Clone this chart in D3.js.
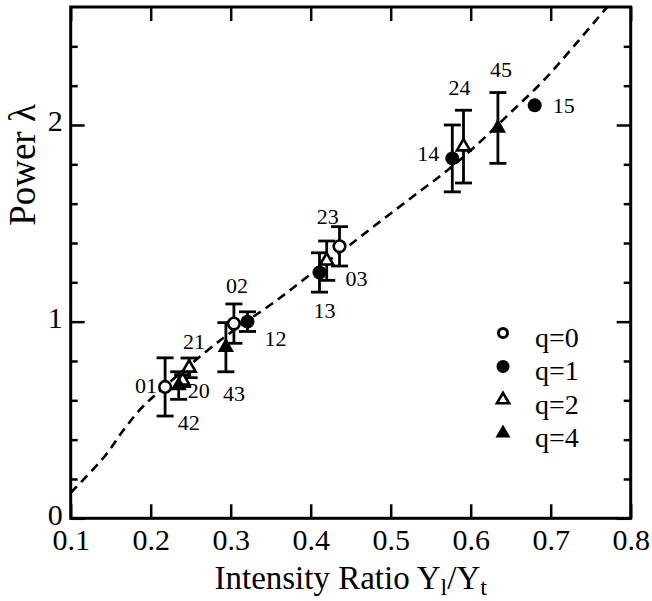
<!DOCTYPE html>
<html lang="en">
<head>
<meta charset="utf-8">
<title>Power vs intensity ratio</title>
<style>
body { margin: 0; background: #fff; }
svg { display: block; }
text { font-family: "Liberation Serif", "Times New Roman", serif; fill: #000; }
.axis text { font-size: 30px; font-family: "Liberation Serif", "Times New Roman", serif; }
.axis line { stroke: #000; stroke-width: 2.5; }
.axis path { display: none; }
.frame { fill: none; stroke: #000; stroke-width: 3; }
.fit { fill: none; stroke: #000; stroke-width: 2.6; stroke-dasharray: 9, 6; }
.err { stroke: #000; stroke-width: 2.8; }
.pt-label { font-size: 22px; }
.legend text { font-size: 28px; }
.title { font-size: 33px; }
</style>
</head>
<body>
<div id="chart"></div>
<script src="https://d3js.org/d3.v7.min.js"></script>
<script>
// points, named by their two digit label
var pointNames = ['01', '20', '42', '21', '43', '02', '12', '13', '23', '03', '14', '24', '45', '15'];
var pointQ     = [0, 2, 4, 2, 4, 0, 1, 1, 2, 0, 1, 2, 4, 1];
var pointX     = [0.218, 0.240, 0.235, 0.248, 0.294, 0.304, 0.321, 0.411, 0.420, 0.436, 0.577, 0.591, 0.634, 0.680];
var pointY     = [0.668, 0.700, 0.675, 0.765, 0.870, 0.990, 1.000, 1.250, 1.310, 1.383, 1.830, 1.890, 1.985, 2.100];
var pointErr   = [0.148, 0.030, 0.070, 0.050, 0.125, 0.100, 0.050, 0.100, 0.100, 0.100, 0.170, 0.185, 0.180, 0];

// dashed fit curve
var curveX = [0.100, 0.142, 0.166, 0.186, 0.208, 0.2875, 0.358, 0.404, 0.446, 0.487, 0.529, 0.571, 0.608, 0.649, 0.692, 0.733, 0.771];
var curveY = [0.130, 0.313, 0.449, 0.550, 0.636, 0.907, 1.110, 1.254, 1.381, 1.510, 1.640, 1.770, 1.900, 2.060, 2.230, 2.420, 2.602];

var legendQ = [0, 1, 2, 4];
var legendLabels = ['q=0', 'q=1', 'q=2', 'q=4'];

var xTicks = [0.1, 0.2, 0.3, 0.4, 0.5, 0.6, 0.7, 0.8];
var yMajorTicks = [0, 1, 2];
var yMinorTicks = [0.2, 0.4, 0.6, 0.8, 1.2, 1.4, 1.6, 1.8, 2.2, 2.4];

// label placement, pixels from the marker (start anchor, baseline)
var labelDx = [-30, 5, -1, -6, -3, -8, 17, -6, -10, 6, -35, -15, -8, 18];
var labelDy = [6, 17, 44, -19, 54, -31, 24, 46, -37, 40, 3, -52, -51, 8];

(function(d3) {
    'use strict';

    var width = 652;
    var height = 601;
    var margin = {top: 7, right: 21.3, bottom: 82.7, left: 70.7};

    var x = d3.scaleLinear().domain([0.1, 0.8]).range([margin.left, width - margin.right]);
    var y = d3.scaleLinear().domain([0, 2.6]).range([height - margin.bottom, margin.top]);

    var plotLeft = x.range()[0], plotRight = x.range()[1];
    var plotBottom = y.range()[0], plotTop = y.range()[1];

    var svg = d3.select('#chart')
        .append('svg')
        .attr('width', width)
        .attr('height', height);

    svg.append('clipPath')
        .attr('id', 'plot-clip')
        .append('rect')
        .attr('x', plotLeft)
        .attr('y', plotTop)
        .attr('width', plotRight - plotLeft)
        .attr('height', plotBottom - plotTop);

    // axes, ticks all point inward
    svg.append('g')
        .attr('class', 'axis')
        .attr('transform', 'translate(0,' + plotBottom + ')')
        .call(d3.axisBottom(x).tickValues(xTicks).tickSize(-14).tickSizeOuter(0).tickPadding(10).tickFormat(d3.format('.1f')));

    svg.append('g')
        .attr('class', 'axis')
        .attr('transform', 'translate(0,' + plotTop + ')')
        .call(d3.axisTop(x).tickValues(xTicks).tickSize(-14).tickSizeOuter(0).tickFormat(''));

    svg.append('g')
        .attr('class', 'axis')
        .attr('transform', 'translate(' + plotLeft + ',0)')
        .call(d3.axisLeft(y).tickValues(yMajorTicks).tickSize(-14).tickSizeOuter(0).tickPadding(8).tickFormat(d3.format('d')))
        .selectAll('text')
        .attr('dy', '0.2em');

    svg.append('g')
        .attr('class', 'axis')
        .attr('transform', 'translate(' + plotLeft + ',0)')
        .call(d3.axisLeft(y).tickValues(yMinorTicks).tickSize(-7).tickSizeOuter(0).tickFormat(''));

    svg.append('g')
        .attr('class', 'axis')
        .attr('transform', 'translate(' + plotRight + ',0)')
        .call(d3.axisRight(y).tickValues(yMajorTicks).tickSize(-14).tickSizeOuter(0).tickFormat(''));

    svg.append('g')
        .attr('class', 'axis')
        .attr('transform', 'translate(' + plotRight + ',0)')
        .call(d3.axisRight(y).tickValues(yMinorTicks).tickSize(-7).tickSizeOuter(0).tickFormat(''));

    svg.append('rect')
        .attr('class', 'frame')
        .attr('x', plotLeft)
        .attr('y', plotTop)
        .attr('width', plotRight - plotLeft)
        .attr('height', plotBottom - plotTop);

    // fit curve
    var line = d3.line()
        .x(function(d) { return x(d[0]); })
        .y(function(d) { return y(d[1]); })
        .curve(d3.curveCatmullRom);

    svg.append('path')
        .attr('class', 'fit')
        .attr('clip-path', 'url(#plot-clip)')
        .attr('d', line(d3.zip(curveX, curveY)));

    var points = pointNames.map(function(name, i) {
        return {name: name, q: pointQ[i], x: pointX[i], y: pointY[i], err: pointErr[i], dx: labelDx[i], dy: labelDy[i]};
    });

    // error bars
    var capHalf = 8.5;
    var bars = svg.append('g').selectAll('g')
        .data(points.filter(function(d) { return d.err > 0; }))
        .enter()
        .append('g')
        .attr('class', 'err');

    bars.append('line')
        .attr('x1', function(d) { return x(d.x); })
        .attr('x2', function(d) { return x(d.x); })
        .attr('y1', function(d) { return y(d.y - d.err); })
        .attr('y2', function(d) { return y(d.y + d.err); });

    [1, -1].forEach(function(s) {
        bars.append('line')
            .attr('x1', function(d) { return x(d.x) - capHalf; })
            .attr('x2', function(d) { return x(d.x) + capHalf; })
            .attr('y1', function(d) { return y(d.y + s * d.err); })
            .attr('y2', function(d) { return y(d.y + s * d.err); });
    });

    // markers
    function drawMarker(sel, q, big) {
        var k = big ? 1 : 0.85;
        if (q === 0) {
            sel.append('circle').attr('r', big ? 5.8 : 4.6)
                .attr('fill', '#fff').attr('stroke', '#000').attr('stroke-width', big ? 2.6 : 3);
        } else if (q === 1) {
            sel.append('circle').attr('r', big ? 7 : 6.5).attr('fill', '#000');
        } else if (q === 2) {
            sel.append('path').attr('d', d3.symbol().type(d3.symbolTriangle).size(75 * k)())
                .attr('fill', '#fff').attr('stroke', '#000').attr('stroke-width', 2.6);
        } else {
            sel.append('path').attr('d', d3.symbol().type(d3.symbolTriangle).size(115 * k)())
                .attr('fill', '#000');
        }
    }

    var marks = svg.append('g').selectAll('g')
        .data(points)
        .enter()
        .append('g')
        .attr('transform', function(d) { return 'translate(' + x(d.x) + ',' + y(d.y) + ')'; });

    marks.each(function(d) { drawMarker(d3.select(this), d.q, true); });

    svg.append('g').selectAll('text')
        .data(points)
        .enter()
        .append('text')
        .attr('class', 'pt-label')
        .attr('x', function(d) { return x(d.x) + d.dx; })
        .attr('y', function(d) { return y(d.y) + d.dy; })
        .text(function(d) { return d.name; });

    // legend
    var legend = svg.append('g')
        .attr('class', 'legend')
        .attr('transform', 'translate(503,333)');

    var legendItem = legend.selectAll('g')
        .data(legendQ)
        .enter()
        .append('g')
        .attr('transform', function(d, i) { return 'translate(0,' + (i * 33.4) + ')'; });

    legendItem.each(function(d) { drawMarker(d3.select(this), d, false); });

    legendItem.append('text')
        .attr('x', 32)
        .attr('y', 14)
        .text(function(d, i) { return legendLabels[i]; });

    // axis titles
    var xTitle = svg.append('text')
        .attr('class', 'title')
        .attr('text-anchor', 'middle')
        .attr('x', (plotLeft + plotRight) / 2)
        .attr('y', 589);
    xTitle.append('tspan').text('Intensity Ratio Y');
    xTitle.append('tspan').attr('font-size', '24px').attr('dy', 6).text('l');
    xTitle.append('tspan').attr('dy', -6).text('/Y');
    xTitle.append('tspan').attr('font-size', '24px').attr('dy', 6).text('t');

    svg.append('text')
        .attr('class', 'title')
        .attr('text-anchor', 'middle')
        .attr('transform', 'translate(35,165) rotate(-90)')
        .style('font-size', '37px')
        .text('Power λ');
})(window.d3);
</script>
</body>
</html>
